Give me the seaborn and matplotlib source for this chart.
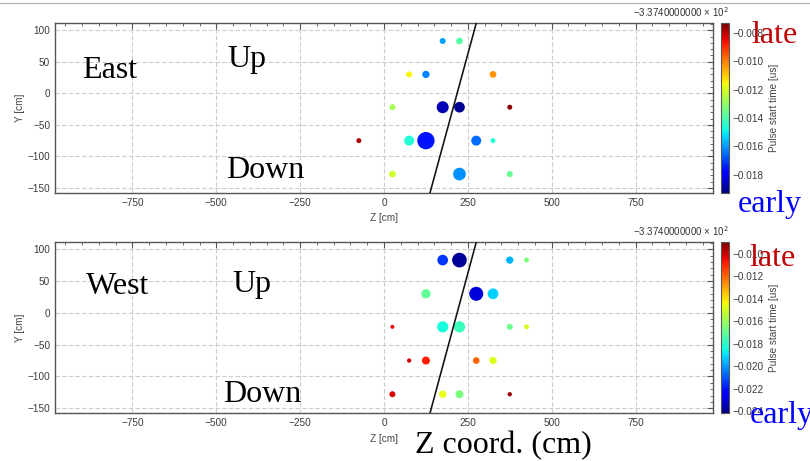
import matplotlib
matplotlib.use('Agg')
import matplotlib.pyplot as plt
import matplotlib.ticker as mticker
from matplotlib.lines import Line2D
import seaborn as sns
import pandas as pd
import numpy as np

# 数据: 两个面板 (East / West) 的 PMT 击中位置、脉冲起始时间 (偏移 -337.4 us) 和电荷
east_z = [175, 225, 75, 125, 325, 25, 175, 225, 375, -75, 75, 125, 275, 325, 25, 225, 375]
east_y = [83, 83, 30, 30, 30, -22, -22, -22, -22, -75, -75, -75, -75, -75, -128, -128, -128]
east_t = [-0.0159, -0.0139, -0.0115, -0.0163, -0.0103, -0.0127, -0.0187, -0.0191, -0.0075,
          -0.0078, -0.0146, -0.0176, -0.0165, -0.0146, -0.0121, -0.0161, -0.0136]
east_q = [6, 6.7, 6, 7.3, 6.7, 6, 12, 10.7, 5, 5, 10, 17.3, 10, 5, 6.7, 12.7, 6]

west_z = [175, 225, 375, 425, 125, 275, 325, 25, 175, 225, 375, 425, 75, 125, 275, 325, 25, 175, 225, 375]
west_y = [83, 83, 83, 83, 30, 30, 30, -22, -22, -22, -22, -22, -75, -75, -75, -75, -128, -128, -128, -128]
west_t = [-0.0215, -0.0239, -0.0196, -0.0166, -0.0171, -0.0230, -0.0192, -0.0105, -0.0184,
          -0.0178, -0.0169, -0.0150, -0.0101, -0.0108, -0.0120, -0.0148, -0.0102, -0.0146,
          -0.0166, -0.0093]
west_q = [10.7, 14.7, 7.3, 5, 9.3, 14, 10.7, 4, 11.3, 11.3, 6, 5, 4.3, 8, 6.7, 7.3, 6, 7.3, 8, 4.3]

# 重建的径迹 (两个端点)
track_z = [137, 275]
track_y = [-158, 111]

east_ticks = [-0.018, -0.016, -0.014, -0.012, -0.010, -0.008]
west_ticks = [-0.024, -0.022, -0.020, -0.018, -0.016, -0.014, -0.012, -0.010]

sns.set_theme(style='white')
plt.rcParams['font.family'] = ['Liberation Sans', 'DejaVu Sans']
plt.rcParams['axes.unicode_minus'] = True

JET = plt.get_cmap('jet')

W, H = 810, 461
fig = plt.figure(figsize=(W / 100, H / 100), dpi=100)
fig.patch.set_facecolor('white')

# 顶部的灰色细线
fig.add_artist(Line2D([0, 1], [1 - 3.3 / H, 1 - 3.3 / H], transform=fig.transFigure,
                      color='#b4b4b4', lw=0.9))


def fx(px):
    return px / W


def fy(py):
    return 1 - py / H


def fmt_minus(v, pos):
    return f'{v:.3f}'.replace('-', '\u2212')


def draw_panel(top, bottom, z, y, t, q, vmin, vmax, ticks, side, updown_pos):
    ax = fig.add_axes([fx(55), fy(bottom), fx(713) - fx(55), fy(top) - fy(bottom)])
    cax = fig.add_axes([fx(721.3), fy(bottom), fx(729.3) - fx(721.3), fy(top) - fy(bottom)])

    df = pd.DataFrame({'z': z, 'y': y, 't': t, 'q': q})
    sizes = (df['q'].to_numpy() * 0.72) ** 2
    sns.scatterplot(data=df, x='z', y='y', hue='t', palette=JET, hue_norm=(vmin, vmax),
                    s=sizes, linewidth=0, legend=False, ax=ax, zorder=3)
    ax.plot(track_z, track_y, color='#111111', lw=1.15, zorder=4)

    ax.set_xlim(-981, 981)
    ax.set_ylim(-158, 111)
    ax.xaxis.set_major_locator(mticker.MultipleLocator(250))
    ax.xaxis.set_minor_locator(mticker.MultipleLocator(50))
    ax.yaxis.set_major_locator(mticker.MultipleLocator(50))
    ax.yaxis.set_minor_locator(mticker.MultipleLocator(10))
    ax.tick_params(which='both', direction='in', top=True, right=True,
                   colors='#555555', labelcolor='#3a3a3a', labelsize=7.2)
    ax.tick_params(which='major', length=4, width=0.8)
    ax.tick_params(which='minor', length=2, width=0.6)
    ax.grid(True, which='major', color='#cccccc', lw=0.8, ls=(0, (4, 2)))
    ax.set_axisbelow(True)
    for sp in ax.spines.values():
        sp.set_color('#555555')
        sp.set_linewidth(1.0)
    ax.set_xlabel('Z [cm]', fontsize=7.2, color='#444444', labelpad=4)
    ax.set_ylabel('Y [cm]', fontsize=7.2, color='#444444', labelpad=2)

    serif = dict(family=['Liberation Serif', 'DejaVu Serif'], fontsize=23, color='black',
                 va='baseline', ha='left')
    (sx, sy), (ux, uy), (dx, dy) = updown_pos
    ax.text(sx, sy, side, **serif)
    ax.text(ux, uy, 'Up', **serif)
    ax.text(dx, dy, 'Down', **serif)

    sm = plt.cm.ScalarMappable(norm=plt.Normalize(vmin, vmax), cmap=JET)
    cb = fig.colorbar(sm, cax=cax)
    cb.set_ticks(ticks)
    cb.ax.yaxis.set_major_formatter(mticker.FuncFormatter(fmt_minus))
    cb.ax.yaxis.set_minor_locator(mticker.MultipleLocator(0.0005))
    cb.ax.tick_params(which='both', direction='in', colors='#555555', labelcolor='#3a3a3a',
                      labelsize=7.2, left=True, right=True)
    cb.ax.tick_params(which='major', length=3, width=0.7, pad=2)
    cb.ax.tick_params(which='minor', length=1.5, width=0.5)
    cb.outline.set_edgecolor('#555555')
    cb.outline.set_linewidth(0.8)
    cb.set_label('Pulse start time [us]', fontsize=7.2, color='#444444', labelpad=4)

    fig.text(fx(728.3), fy(top - 6), '\u22123.3740000000 \u00d7 10$^{2}$', ha='right',
             va='baseline', fontsize=7, color='#333333')
    return ax


draw_panel(23.3, 193, east_z, east_y, east_t, east_q, -0.0193, -0.0073, east_ticks, 'East',
           [(-900, 23.6), (-468, 41.5), (-471, -134)])
draw_panel(242.3, 413.3, west_z, west_y, west_t, west_q, -0.0242, -0.0090, west_ticks, 'West',
           [(-888, 30.4), (-453, 32.9), (-480, -139.6)])

big = dict(family=['Liberation Serif', 'DejaVu Serif'], fontsize=23, va='baseline', ha='left')
fig.text(fx(751.7), fy(43.3), 'late', color='#c00000', **big)
fig.text(fx(737.3), fy(211.7), 'early', color='#0000ff', **big)
fig.text(fx(749), fy(266), 'late', color='#c00000', **big)
fig.text(fx(750), fy(422.7), 'early', color='#0000ff', **big)
fig.text(fx(415), fy(453), 'Z coord. (cm)', color='black', **big)

fig.savefig('out.png', dpi=100)
